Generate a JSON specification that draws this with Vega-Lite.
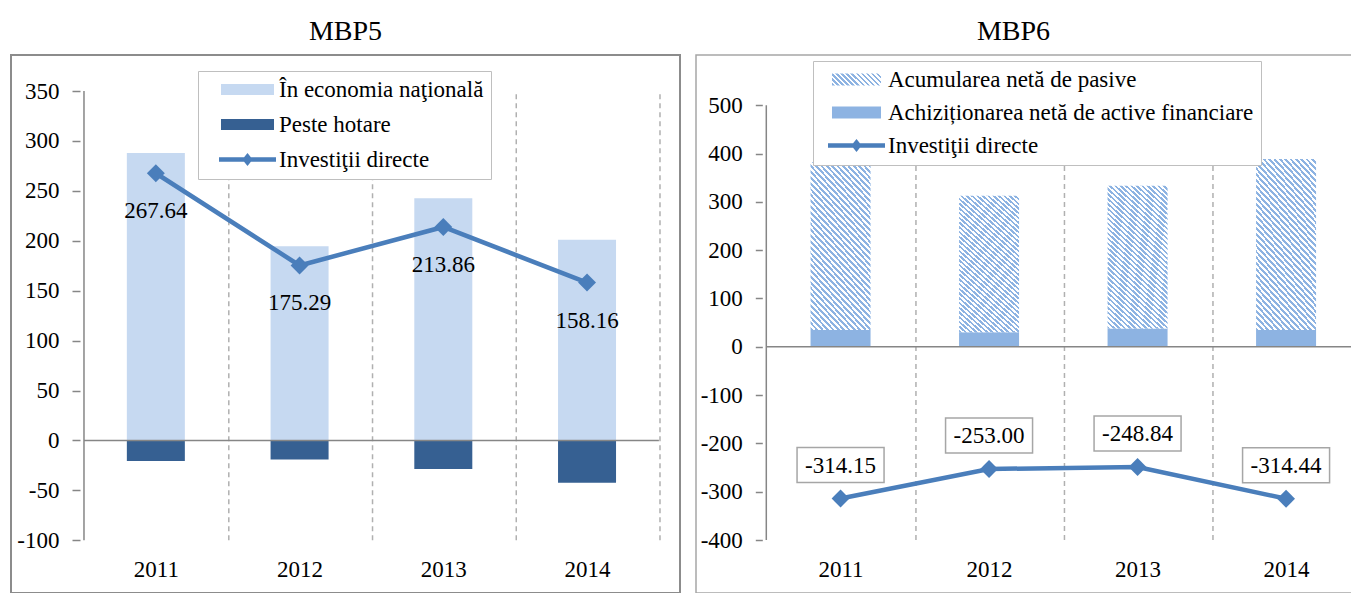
{
"$schema": "https://vega.github.io/schema/vega-lite/v6.json",
"padding": {"left": 10, "top": 17, "right": 0, "bottom": 0},
"spacing": 14,
"config": {
  "font": "Liberation Serif, serif",
  "locale": {"number": {"decimal": ".", "thousands": ",", "grouping": [3], "currency": ["", ""], "minus": "-"}},
  "title": {"font": "Liberation Serif, serif", "fontSize": 28, "fontWeight": "normal", "color": "black", "offset": 9, "anchor": "middle"},
  "axis": {"labelFont": "Liberation Serif, serif", "labelFontSize": 23, "labelColor": "black", "grid": false},
  "legend": {"labelFont": "Liberation Serif, serif", "labelFontSize": 23, "labelColor": "black", "labelLimit": 600},
  "text": {"font": "Liberation Serif, serif"}
},
"datasets": {
  "mbp5_bars": [
    {"year": 2011, "series": "În economia naţională", "value": 288.0},
    {"year": 2011, "series": "Peste hotare", "value": -20.5},
    {"year": 2012, "series": "În economia naţională", "value": 194.5},
    {"year": 2012, "series": "Peste hotare", "value": -19.2},
    {"year": 2013, "series": "În economia naţională", "value": 242.6},
    {"year": 2013, "series": "Peste hotare", "value": -28.7},
    {"year": 2014, "series": "În economia naţională", "value": 201.0},
    {"year": 2014, "series": "Peste hotare", "value": -42.3}
  ],
  "mbp5_line": [
    {"year": 2011, "value": 267.64},
    {"year": 2012, "value": 175.29},
    {"year": 2013, "value": 213.86},
    {"year": 2014, "value": 158.16}
  ],
  "mbp6_bars": [
    {"year": 2011, "series": "Achiziționarea netă de active financiare", "value": 34.7},
    {"year": 2011, "series": "Acumularea netă de pasive", "value": 347.3},
    {"year": 2012, "series": "Achiziționarea netă de active financiare", "value": 30.0},
    {"year": 2012, "series": "Acumularea netă de pasive", "value": 282.5},
    {"year": 2013, "series": "Achiziționarea netă de active financiare", "value": 38.0},
    {"year": 2013, "series": "Acumularea netă de pasive", "value": 295.5},
    {"year": 2014, "series": "Achiziționarea netă de active financiare", "value": 34.7},
    {"year": 2014, "series": "Acumularea netă de pasive", "value": 354.3}
  ],
  "mbp6_line": [
    {"year": 2011, "value": -314.15},
    {"year": 2012, "value": -253.00},
    {"year": 2013, "value": -248.84},
    {"year": 2014, "value": -314.44}
  ]
},
"resolve": {"scale": {"x": "independent", "y": "independent", "fill": "independent"}, "legend": {"fill": "independent"}},
"hconcat": [
  {
    "title": {"text": "MBP5"},
    "width": 669,
    "height": 538,
    "view": {"stroke": "#8c8c8c", "strokeWidth": 2},
    "layer": [
      {
        "data": {"name": "mbp5_bars"},
        "mark": {"type": "bar", "width": 58, "orient": "vertical"},
        "encoding": {
          "x": {"field": "year", "type": "quantitative", "title": null,
                "scale": {"domain": [2010.027, 2014.612], "nice": false, "zero": false},
                "axis": {"orient": "bottom", "offset": -35, "values": [2011, 2012, 2013, 2014], "format": "d", "domain": false, "ticks": false, "grid": false, "labelPadding": 0, "labelFlush": false, "labelOverlap": false, "title": null}},
          "y": {"field": "value", "type": "quantitative", "stack": null, "title": null,
                "scale": {"domain": [-152.8, 386.1], "nice": false, "zero": false},
                "axis": {"orient": "left", "offset": -69, "values": [-100, -50, 0, 50, 100, 150, 200, 250, 300, 350], "domain": false, "ticks": true, "grid": false, "tickSize": 8, "tickColor": "#868686", "tickWidth": 1.5, "labelPadding": 13, "labelOverlap": false, "title": null}},
          "fill": {"field": "series", "type": "nominal",
                   "scale": {"domain": ["În economia naţională", "Peste hotare", "Investiţii directe"], "range": ["#c6d9f1", "#366092", "#4a7ebb"]},
                   "legend": {"orient": "none", "legendX": 187, "legendY": 16, "title": null, "direction": "vertical",
                              "symbolSize": 361, "symbolOffset": 31, "labelOffset": 20, "rowPadding": 11, "padding": 7,
                              "strokeColor": "#bfbfbf", "fillColor": "#ffffff", "symbolStrokeWidth": 0, "symbolStrokeColor": "transparent", "symbolOpacity": 1,
                              "labelFont": "Liberation Serif, serif", "labelFontSize": 23,
                              "encode": {"symbols": {"update": {
                                "shape": [{"test": "datum.value === 'Investiţii directe'", "value": "M-3,-0.24H3V0.24H-3Z M-0.55,0L0,-0.68L0.55,0L0,0.68Z"}, {"value": "M-2.79,-0.58H2.79V0.58H-2.79Z"}]
                              }}}}}
        }
      },
      {
        "data": {"name": "mbp5_line"},
        "mark": {"type": "rule", "xOffset": 72.95, "strokeDash": [5, 4], "color": "#b0b0b0", "strokeWidth": 1.5},
        "encoding": {
          "x": {"field": "year", "type": "quantitative"},
          "y": {"datum": -100, "type": "quantitative"},
          "y2": {"datum": 350}
        }
      },
      {
        "data": {"values": [{}]},
        "mark": {"type": "rule", "color": "#868686", "strokeWidth": 1.5},
        "encoding": {
          "x": {"datum": 2010.5, "type": "quantitative"},
          "x2": {"datum": 2014.5},
          "y": {"datum": 0, "type": "quantitative"}
        }
      },
      {
        "data": {"values": [{}]},
        "mark": {"type": "rule", "color": "#868686", "strokeWidth": 1.5},
        "encoding": {
          "x": {"datum": 2010.5, "type": "quantitative"},
          "y": {"datum": -100, "type": "quantitative"},
          "y2": {"datum": 350}
        }
      },
      {
        "data": {"name": "mbp5_line"},
        "mark": {"type": "line", "color": "#4a7ebb", "strokeWidth": 4.5},
        "encoding": {
          "x": {"field": "year", "type": "quantitative"},
          "y": {"field": "value", "type": "quantitative"}
        }
      },
      {
        "data": {"name": "mbp5_line"},
        "mark": {"type": "point", "shape": "diamond", "filled": true, "size": 320, "color": "#4a7ebb", "opacity": 1},
        "encoding": {
          "x": {"field": "year", "type": "quantitative"},
          "y": {"field": "value", "type": "quantitative"}
        }
      },
      {
        "data": {"name": "mbp5_line"},
        "mark": {"type": "text", "dy": 38, "fontSize": 23, "font": "Liberation Serif, serif", "color": "black", "baseline": "middle", "align": "center"},
        "encoding": {
          "x": {"field": "year", "type": "quantitative"},
          "y": {"field": "value", "type": "quantitative"},
          "text": {"field": "value", "type": "quantitative", "format": ".2f"}
        }
      }
    ]
  },
  {
    "title": {"text": "MBP6", "dx": -11},
    "width": 657,
    "height": 538,
    "view": {"stroke": "#a6a6a6", "strokeWidth": 1.5},
    "layer": [
      {
        "data": {"name": "mbp6_bars"},
        "mark": {"type": "bar", "width": 60, "orient": "vertical"},
        "encoding": {
          "x": {"field": "year", "type": "quantitative", "title": null,
                "scale": {"domain": [2010.0603, 2014.417], "nice": false, "zero": false},
                "axis": {"orient": "bottom", "offset": -35, "values": [2011, 2012, 2013, 2014], "format": "d", "domain": false, "ticks": false, "grid": false, "labelPadding": 0, "labelFlush": false, "labelOverlap": false, "title": null}},
          "y": {"field": "value", "type": "quantitative", "stack": "zero", "title": null,
                "scale": {"domain": [-509.7, 604.1], "nice": false, "zero": false},
                "axis": {"orient": "left", "offset": -66.3, "values": [-400, -300, -200, -100, 0, 100, 200, 300, 400, 500], "domain": false, "ticks": true, "grid": false, "tickSize": 7, "tickColor": "#868686", "tickWidth": 1.5, "labelPadding": 13, "labelOverlap": false, "title": null}},
          "order": {"field": "series", "sort": "ascending"},
          "fill": {"field": "series", "type": "nominal",
                   "condition": {"test": "datum.series === 'Acumularea netă de pasive'",
                     "value": {"gradient": "linear", "x1": 0, "y1": 1, "x2": 0.467, "y2": -0.206, "stops": [
{"offset":0,"color":"#8db3e2"},{"offset":0.0125,"color":"#8db3e2"},{"offset":0.0125,"color":"#ffffff"},{"offset":0.025,"color":"#ffffff"},
{"offset":0.025,"color":"#8db3e2"},{"offset":0.0375,"color":"#8db3e2"},{"offset":0.0375,"color":"#ffffff"},{"offset":0.05,"color":"#ffffff"},
{"offset":0.05,"color":"#8db3e2"},{"offset":0.0625,"color":"#8db3e2"},{"offset":0.0625,"color":"#ffffff"},{"offset":0.075,"color":"#ffffff"},
{"offset":0.075,"color":"#8db3e2"},{"offset":0.0875,"color":"#8db3e2"},{"offset":0.0875,"color":"#ffffff"},{"offset":0.1,"color":"#ffffff"},
{"offset":0.1,"color":"#8db3e2"},{"offset":0.1125,"color":"#8db3e2"},{"offset":0.1125,"color":"#ffffff"},{"offset":0.125,"color":"#ffffff"},
{"offset":0.125,"color":"#8db3e2"},{"offset":0.1375,"color":"#8db3e2"},{"offset":0.1375,"color":"#ffffff"},{"offset":0.15,"color":"#ffffff"},
{"offset":0.15,"color":"#8db3e2"},{"offset":0.1625,"color":"#8db3e2"},{"offset":0.1625,"color":"#ffffff"},{"offset":0.175,"color":"#ffffff"},
{"offset":0.175,"color":"#8db3e2"},{"offset":0.1875,"color":"#8db3e2"},{"offset":0.1875,"color":"#ffffff"},{"offset":0.2,"color":"#ffffff"},
{"offset":0.2,"color":"#8db3e2"},{"offset":0.2125,"color":"#8db3e2"},{"offset":0.2125,"color":"#ffffff"},{"offset":0.225,"color":"#ffffff"},
{"offset":0.225,"color":"#8db3e2"},{"offset":0.2375,"color":"#8db3e2"},{"offset":0.2375,"color":"#ffffff"},{"offset":0.25,"color":"#ffffff"},
{"offset":0.25,"color":"#8db3e2"},{"offset":0.2625,"color":"#8db3e2"},{"offset":0.2625,"color":"#ffffff"},{"offset":0.275,"color":"#ffffff"},
{"offset":0.275,"color":"#8db3e2"},{"offset":0.2875,"color":"#8db3e2"},{"offset":0.2875,"color":"#ffffff"},{"offset":0.3,"color":"#ffffff"},
{"offset":0.3,"color":"#8db3e2"},{"offset":0.3125,"color":"#8db3e2"},{"offset":0.3125,"color":"#ffffff"},{"offset":0.325,"color":"#ffffff"},
{"offset":0.325,"color":"#8db3e2"},{"offset":0.3375,"color":"#8db3e2"},{"offset":0.3375,"color":"#ffffff"},{"offset":0.35,"color":"#ffffff"},
{"offset":0.35,"color":"#8db3e2"},{"offset":0.3625,"color":"#8db3e2"},{"offset":0.3625,"color":"#ffffff"},{"offset":0.375,"color":"#ffffff"},
{"offset":0.375,"color":"#8db3e2"},{"offset":0.3875,"color":"#8db3e2"},{"offset":0.3875,"color":"#ffffff"},{"offset":0.4,"color":"#ffffff"},
{"offset":0.4,"color":"#8db3e2"},{"offset":0.4125,"color":"#8db3e2"},{"offset":0.4125,"color":"#ffffff"},{"offset":0.425,"color":"#ffffff"},
{"offset":0.425,"color":"#8db3e2"},{"offset":0.4375,"color":"#8db3e2"},{"offset":0.4375,"color":"#ffffff"},{"offset":0.45,"color":"#ffffff"},
{"offset":0.45,"color":"#8db3e2"},{"offset":0.4625,"color":"#8db3e2"},{"offset":0.4625,"color":"#ffffff"},{"offset":0.475,"color":"#ffffff"},
{"offset":0.475,"color":"#8db3e2"},{"offset":0.4875,"color":"#8db3e2"},{"offset":0.4875,"color":"#ffffff"},{"offset":0.5,"color":"#ffffff"},
{"offset":0.5,"color":"#8db3e2"},{"offset":0.5125,"color":"#8db3e2"},{"offset":0.5125,"color":"#ffffff"},{"offset":0.525,"color":"#ffffff"},
{"offset":0.525,"color":"#8db3e2"},{"offset":0.5375,"color":"#8db3e2"},{"offset":0.5375,"color":"#ffffff"},{"offset":0.55,"color":"#ffffff"},
{"offset":0.55,"color":"#8db3e2"},{"offset":0.5625,"color":"#8db3e2"},{"offset":0.5625,"color":"#ffffff"},{"offset":0.575,"color":"#ffffff"},
{"offset":0.575,"color":"#8db3e2"},{"offset":0.5875,"color":"#8db3e2"},{"offset":0.5875,"color":"#ffffff"},{"offset":0.6,"color":"#ffffff"},
{"offset":0.6,"color":"#8db3e2"},{"offset":0.6125,"color":"#8db3e2"},{"offset":0.6125,"color":"#ffffff"},{"offset":0.625,"color":"#ffffff"},
{"offset":0.625,"color":"#8db3e2"},{"offset":0.6375,"color":"#8db3e2"},{"offset":0.6375,"color":"#ffffff"},{"offset":0.65,"color":"#ffffff"},
{"offset":0.65,"color":"#8db3e2"},{"offset":0.6625,"color":"#8db3e2"},{"offset":0.6625,"color":"#ffffff"},{"offset":0.675,"color":"#ffffff"},
{"offset":0.675,"color":"#8db3e2"},{"offset":0.6875,"color":"#8db3e2"},{"offset":0.6875,"color":"#ffffff"},{"offset":0.7,"color":"#ffffff"},
{"offset":0.7,"color":"#8db3e2"},{"offset":0.7125,"color":"#8db3e2"},{"offset":0.7125,"color":"#ffffff"},{"offset":0.725,"color":"#ffffff"},
{"offset":0.725,"color":"#8db3e2"},{"offset":0.7375,"color":"#8db3e2"},{"offset":0.7375,"color":"#ffffff"},{"offset":0.75,"color":"#ffffff"},
{"offset":0.75,"color":"#8db3e2"},{"offset":0.7625,"color":"#8db3e2"},{"offset":0.7625,"color":"#ffffff"},{"offset":0.775,"color":"#ffffff"},
{"offset":0.775,"color":"#8db3e2"},{"offset":0.7875,"color":"#8db3e2"},{"offset":0.7875,"color":"#ffffff"},{"offset":0.8,"color":"#ffffff"},
{"offset":0.8,"color":"#8db3e2"},{"offset":0.8125,"color":"#8db3e2"},{"offset":0.8125,"color":"#ffffff"},{"offset":0.825,"color":"#ffffff"},
{"offset":0.825,"color":"#8db3e2"},{"offset":0.8375,"color":"#8db3e2"},{"offset":0.8375,"color":"#ffffff"},{"offset":0.85,"color":"#ffffff"},
{"offset":0.85,"color":"#8db3e2"},{"offset":0.8625,"color":"#8db3e2"},{"offset":0.8625,"color":"#ffffff"},{"offset":0.875,"color":"#ffffff"},
{"offset":0.875,"color":"#8db3e2"},{"offset":0.8875,"color":"#8db3e2"},{"offset":0.8875,"color":"#ffffff"},{"offset":0.9,"color":"#ffffff"},
{"offset":0.9,"color":"#8db3e2"},{"offset":0.9125,"color":"#8db3e2"},{"offset":0.9125,"color":"#ffffff"},{"offset":0.925,"color":"#ffffff"},
{"offset":0.925,"color":"#8db3e2"},{"offset":0.9375,"color":"#8db3e2"},{"offset":0.9375,"color":"#ffffff"},{"offset":0.95,"color":"#ffffff"},
{"offset":0.95,"color":"#8db3e2"},{"offset":0.9625,"color":"#8db3e2"},{"offset":0.9625,"color":"#ffffff"},{"offset":0.975,"color":"#ffffff"},
{"offset":0.975,"color":"#8db3e2"},{"offset":0.9875,"color":"#8db3e2"},{"offset":0.9875,"color":"#ffffff"},{"offset":1,"color":"#ffffff"}
                     ]}},
                   "scale": {"domain": ["Acumularea netă de pasive", "Achiziționarea netă de active financiare", "Investiţii directe"],
                             "range": [{"expr": "{gradient: 'linear', x1: 0, y1: 1, x2: 1.1745, y2: 0.7124, stops: [{offset: 0, color: '#8db3e2'}, {offset: 0.041667, color: '#8db3e2'}, {offset: 0.041667, color: '#ffffff'}, {offset: 0.083333, color: '#ffffff'}, {offset: 0.083333, color: '#8db3e2'}, {offset: 0.125, color: '#8db3e2'}, {offset: 0.125, color: '#ffffff'}, {offset: 0.166667, color: '#ffffff'}, {offset: 0.166667, color: '#8db3e2'}, {offset: 0.208333, color: '#8db3e2'}, {offset: 0.208333, color: '#ffffff'}, {offset: 0.25, color: '#ffffff'}, {offset: 0.25, color: '#8db3e2'}, {offset: 0.291667, color: '#8db3e2'}, {offset: 0.291667, color: '#ffffff'}, {offset: 0.333333, color: '#ffffff'}, {offset: 0.333333, color: '#8db3e2'}, {offset: 0.375, color: '#8db3e2'}, {offset: 0.375, color: '#ffffff'}, {offset: 0.416667, color: '#ffffff'}, {offset: 0.416667, color: '#8db3e2'}, {offset: 0.458333, color: '#8db3e2'}, {offset: 0.458333, color: '#ffffff'}, {offset: 0.5, color: '#ffffff'}, {offset: 0.5, color: '#8db3e2'}, {offset: 0.541667, color: '#8db3e2'}, {offset: 0.541667, color: '#ffffff'}, {offset: 0.583333, color: '#ffffff'}, {offset: 0.583333, color: '#8db3e2'}, {offset: 0.625, color: '#8db3e2'}, {offset: 0.625, color: '#ffffff'}, {offset: 0.666667, color: '#ffffff'}, {offset: 0.666667, color: '#8db3e2'}, {offset: 0.708333, color: '#8db3e2'}, {offset: 0.708333, color: '#ffffff'}, {offset: 0.75, color: '#ffffff'}, {offset: 0.75, color: '#8db3e2'}, {offset: 0.791667, color: '#8db3e2'}, {offset: 0.791667, color: '#ffffff'}, {offset: 0.833333, color: '#ffffff'}, {offset: 0.833333, color: '#8db3e2'}, {offset: 0.875, color: '#8db3e2'}, {offset: 0.875, color: '#ffffff'}, {offset: 0.916667, color: '#ffffff'}, {offset: 0.916667, color: '#8db3e2'}, {offset: 0.958333, color: '#8db3e2'}, {offset: 0.958333, color: '#ffffff'}, {offset: 1, color: '#ffffff'}]}"}, "#8db3e2", "#4a7ebb"]},
                   "legend": {"orient": "none", "legendX": 117, "legendY": 6, "title": null, "direction": "vertical",
                              "symbolSize": 361, "symbolOffset": 25, "labelOffset": 20, "rowPadding": 9, "padding": 7,
                              "strokeColor": "#bfbfbf", "fillColor": "#ffffff", "symbolStrokeWidth": 0, "symbolStrokeColor": "transparent", "symbolOpacity": 1,
                              "labelFont": "Liberation Serif, serif", "labelFontSize": 23,
                              "encode": {"symbols": {"update": {
                                "shape": [{"test": "datum.value === 'Investiţii directe'", "value": "M-3,-0.24H3V0.24H-3Z M-0.55,0L0,-0.68L0.55,0L0,0.68Z"}, {"value": "M-2.58,-0.63H2.58V0.63H-2.58Z"}]
                              }}}}}
        }
      },
      {
        "data": {"name": "mbp6_line"},
        "mark": {"type": "rule", "xOffset": 75.4, "strokeDash": [5, 4], "color": "#b0b0b0", "strokeWidth": 1.5, "clip": true},
        "encoding": {
          "x": {"field": "year", "type": "quantitative"},
          "y": {"datum": -400, "type": "quantitative"},
          "y2": {"datum": 500}
        }
      },
      {
        "data": {"values": [{}]},
        "mark": {"type": "rule", "color": "#868686", "strokeWidth": 1.5, "clip": true},
        "encoding": {
          "x": {"datum": 2010.5, "type": "quantitative"},
          "x2": {"datum": 2014.5},
          "y": {"datum": 0, "type": "quantitative"}
        }
      },
      {
        "data": {"values": [{}]},
        "mark": {"type": "rule", "color": "#868686", "strokeWidth": 1.5},
        "encoding": {
          "x": {"datum": 2010.5, "type": "quantitative"},
          "y": {"datum": -400, "type": "quantitative"},
          "y2": {"datum": 500}
        }
      },
      {
        "data": {"name": "mbp6_line"},
        "mark": {"type": "line", "color": "#4a7ebb", "strokeWidth": 4.5},
        "encoding": {
          "x": {"field": "year", "type": "quantitative"},
          "y": {"field": "value", "type": "quantitative"}
        }
      },
      {
        "data": {"name": "mbp6_line"},
        "mark": {"type": "point", "shape": "diamond", "filled": true, "size": 320, "color": "#4a7ebb", "opacity": 1},
        "encoding": {
          "x": {"field": "year", "type": "quantitative"},
          "y": {"field": "value", "type": "quantitative"}
        }
      },
      {
        "data": {"name": "mbp6_line"},
        "mark": {"type": "point", "shape": "M-1,-0.402H1V0.402H-1Z", "size": 7569, "filled": true, "fill": "#ffffff", "stroke": "#a6a6a6", "strokeWidth": 1.5, "opacity": 1, "yOffset": -33.5},
        "encoding": {
          "x": {"field": "year", "type": "quantitative"},
          "y": {"field": "value", "type": "quantitative"}
        }
      },
      {
        "data": {"name": "mbp6_line"},
        "mark": {"type": "text", "dy": -33, "fontSize": 23, "font": "Liberation Serif, serif", "color": "black", "baseline": "middle", "align": "center"},
        "encoding": {
          "x": {"field": "year", "type": "quantitative"},
          "y": {"field": "value", "type": "quantitative"},
          "text": {"field": "value", "type": "quantitative", "format": ".2f"}
        }
      }
    ]
  }
]
}
